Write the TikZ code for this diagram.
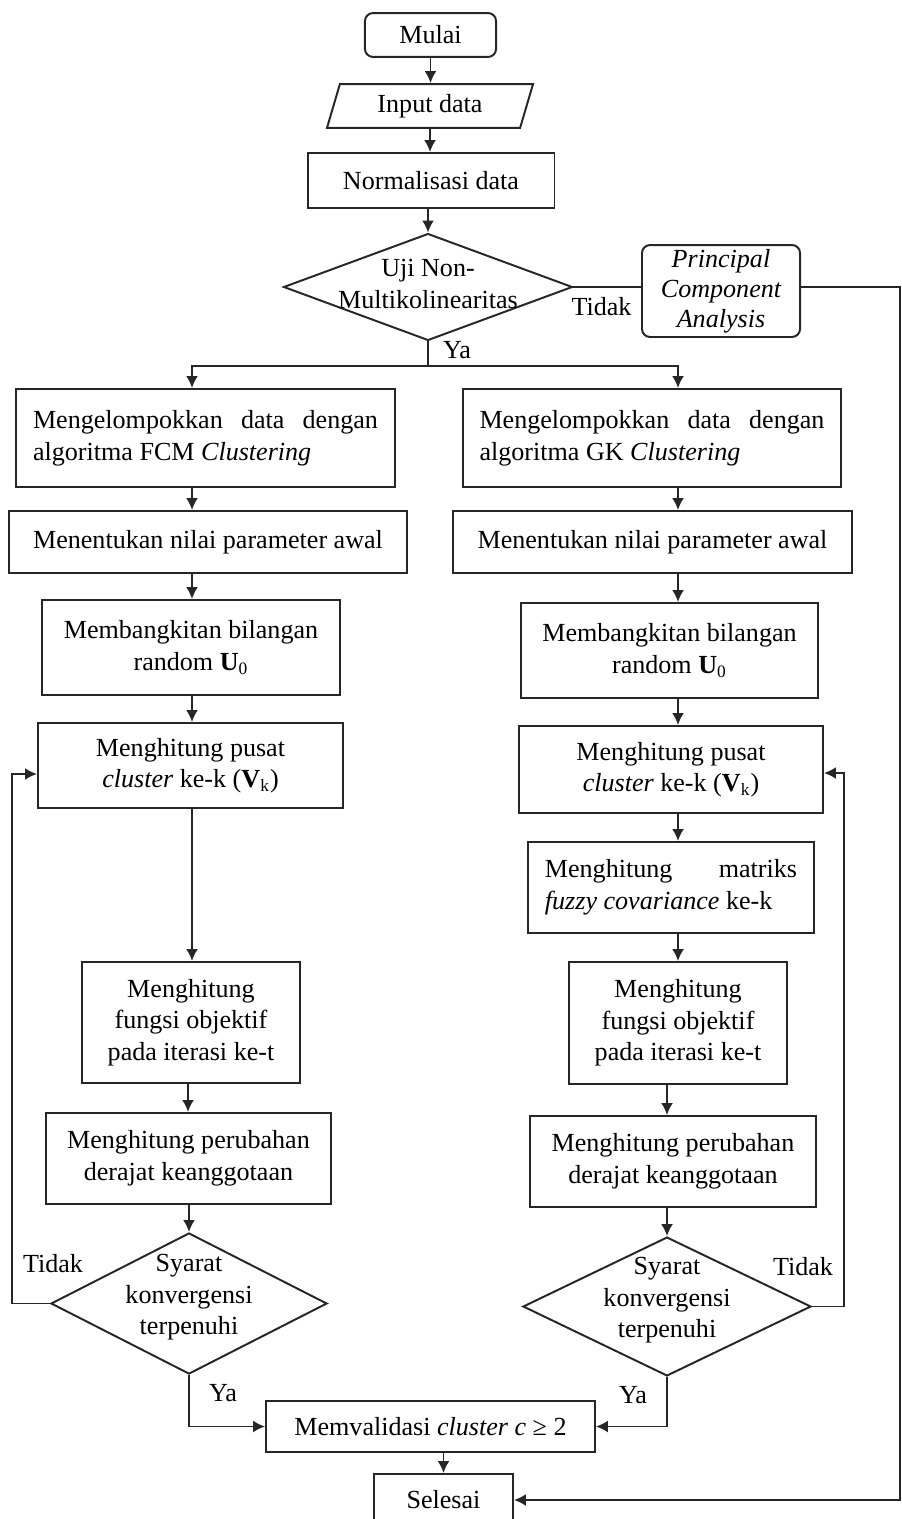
\documentclass[tikz,border=0pt]{standalone}
\usepackage{fontspec}
\setmainfont{Liberation Serif}
\usetikzlibrary{shapes.geometric}
\usetikzlibrary{arrows.meta}
\usetikzlibrary{calc}

\begin{document}
\begin{tikzpicture}[x=0.46pt,y=-0.46pt,>={Latex[length=5.5pt,width=5.5pt]},
	every node/.style={font=\fontsize{12}{14.5}\selectfont},
	kotak/.style={draw=black!85,line width=0.9pt,align=center,inner sep=3pt},
	terminal/.style={kotak,rounded corners=3.7pt},
	masukan/.style={kotak,trapezium,trapezium left angle=77,trapezium right angle=103,trapezium stretches=true},
	keputusan/.style={draw=black!85,line width=0.9pt,diamond},
	garis/.style={line width=0.9pt,draw=black!85}]

	\clip (0,0) rectangle (901,1519);

	%columns of the arrows
	\coordinate (kiri) at (192,0);
	\coordinate (kiri2) at (188,0);
	\coordinate (kanan) at (678,0);
	\coordinate (kanan2) at (667,0);

	%top part
	\node[terminal,minimum width=60.3pt,minimum height=20.2pt] (mulai) at (430.5,35) {Mulai};
	\node[masukan,minimum width=94.8pt,minimum height=20.2pt] (input) at (430,106) {Input data};
	\node[kotak,minimum width=113.6pt,minimum height=25.3pt] (norm) at (431,180.5) {Normalisasi data};
	\node[keputusan,minimum width=132.9pt,minimum height=49.2pt] (uji) at (428,287) {};
	\node[align=center] (ujiteks) at ($(uji)+(0,-3)$) {Uji Non-\\Multikolinearitas};
	\node[terminal,inner sep=0.5pt,minimum width=72.7pt,minimum height=42.3pt,font=\fontsize{12}{13.8}\selectfont\itshape] (pca) at (721,291) {Principal\\Component\\Analysis};

	%FCM
	\node[kotak,minimum width=174.3pt,minimum height=45.1pt,text width=158.7pt,align=flush left] (fcm1) at (205.5,438) {Mengelompokkan\hfill data\hfill dengan\\algoritma FCM \emph{Clustering}};
	\node[kotak,minimum width=183.1pt,minimum height=28.5pt] (fcm2) at (208,542) {Menentukan nilai parameter awal};
	\node[kotak,minimum width=137.1pt,minimum height=43.7pt] (fcm3) at (191,647.5) {Membangkitan bilangan\\random \textbf{U}\textsubscript{0}};
	\node[kotak,minimum width=140.3pt,minimum height=39.1pt] (fcm4) at (190.5,765.5) {Menghitung pusat\\\emph{cluster} ke-k (\textbf{V}\textsubscript{k})};
	\node[kotak,minimum width=100.3pt,minimum height=55.7pt] (fcm5) at (191,1022.5) {Menghitung\\fungsi objektif\\pada iterasi ke-t};
	\node[kotak,minimum width=131.1pt,minimum height=41.9pt] (fcm6) at (188.5,1158.5) {Menghitung perubahan\\derajat keanggotaan};
	\node[keputusan,minimum width=127pt,minimum height=64.9pt] (fcm7) at (189,1303.5) {};
	\node[align=center] (fcm7teks) at ($(fcm7)+(0,-6)$) {Syarat\\konvergensi\\terpenuhi};

	%GK
	\node[kotak,minimum width=173.9pt,minimum height=45.1pt,text width=158.7pt,align=flush left] (gk1) at (652,438) {Mengelompokkan\hfill data\hfill dengan\\algoritma GK \emph{Clustering}};
	\node[kotak,minimum width=183.5pt,minimum height=28.5pt] (gk2) at (652.5,542) {Menentukan nilai parameter awal};
	\node[kotak,minimum width=136.6pt,minimum height=43.7pt] (gk3) at (669.5,650.5) {Membangkitan bilangan\\random \textbf{U}\textsubscript{0}};
	\node[kotak,minimum width=139.8pt,minimum height=40pt] (gk4) at (671,769.5) {Menghitung pusat\\\emph{cluster} ke-k (\textbf{V}\textsubscript{k})};
	\node[kotak,minimum width=131.6pt,minimum height=41.9pt,text width=116pt,align=flush left] (gk5) at (671,887.5) {Menghitung\hfill matriks\\\emph{fuzzy covariance} ke-k};
	\node[kotak,minimum width=100.3pt,minimum height=56.1pt] (gk6) at (678,1023) {Menghitung\\fungsi objektif\\pada iterasi ke-t};
	\node[kotak,minimum width=131.6pt,minimum height=41.9pt] (gk7) at (673,1161.5) {Menghitung perubahan\\derajat keanggotaan};
	\node[keputusan,minimum width=132.5pt,minimum height=63.9pt] (gk8) at (667,1306.5) {};
	\node[align=center] (gk8teks) at ($(gk8)+(0,-6)$) {Syarat\\konvergensi\\terpenuhi};

	%end
	\node[kotak,minimum width=151.3pt,minimum height=23.5pt] (val) at (430.5,1426.5) {Memvalidasi \emph{cluster c} ≥ 2};
	\node[kotak,minimum width=63.9pt,minimum height=23.9pt] (sel) at (443.5,1500) {Selesai};

	%labels
	\node[anchor=base] (tidak0) at (601.5,315) {Tidak};
	\node[anchor=base] (ya0) at (457,358) {Ya};
	\node[anchor=base] (tidak1) at (53,1272) {Tidak};
	\node[anchor=base] (tidak2) at (803,1275) {Tidak};
	\node[anchor=base] (ya1) at (223,1401) {Ya};
	\node[anchor=base] (ya2) at (633,1403) {Ya};

	%arrows top
	\draw[garis,->] (mulai.south) -- (mulai.south |- input.north);
	\draw[garis,->] (input.south) -- (input.south |- norm.north);
	\draw[garis,->] (norm.south -| uji.north) -- (uji.north);
	\draw[garis] (uji.east) -- (uji.east -| pca.west);
	\draw[garis,->] (pca.east |- uji.east) -- ++(99,0) |- (sel.east);
	\draw[garis] (uji.south) -- ++(0,25) coordinate (cabang);
	\draw[garis,->] (cabang) -| (fcm1.north -| kiri);
	\draw[garis,->] (cabang) -| (gk1.north -| kanan);

	%arrows FCM
	\draw[garis,->] (fcm1.south -| kiri) -- (fcm2.north -| kiri);
	\draw[garis,->] (fcm2.south -| kiri) -- (fcm3.north -| kiri);
	\draw[garis,->] (fcm3.south -| kiri) -- (fcm4.north -| kiri);
	\draw[garis,->] (fcm4.south -| kiri) -- (fcm5.north -| kiri);
	\draw[garis,->] (fcm5.south -| kiri2) -- (fcm6.north -| kiri2);
	\draw[garis,->] (fcm6.south -| fcm7.north) -- (fcm7.north);
	\draw[garis,->] (fcm7.west) -- ($(fcm7.west)+(-38,0)$) |- ($(fcm4.west)+(0,8.5)$);
	\draw[garis,->] (fcm7.south) |- (val.west);

	%arrows GK
	\draw[garis,->] (gk1.south -| kanan) -- (gk2.north -| kanan);
	\draw[garis,->] (gk2.south -| kanan) -- (gk3.north -| kanan);
	\draw[garis,->] (gk3.south -| kanan) -- (gk4.north -| kanan);
	\draw[garis,->] (gk4.south -| kanan) -- (gk5.north -| kanan);
	\draw[garis,->] (gk5.south -| kanan) -- (gk6.north -| kanan);
	\draw[garis,->] (gk6.south -| kanan2) -- (gk7.north -| kanan2);
	\draw[garis,->] (gk7.south -| gk8.north) -- (gk8.north);
	\draw[garis,->] (gk8.east) -- ($(gk8.east)+(32,0)$) |- ($(gk4.east)+(0,3.5)$);
	\draw[garis,->] (gk8.south) |- (val.east);

	\draw[garis,->] (val.south -| sel.north) -- (sel.north);

\end{tikzpicture}
\end{document}
